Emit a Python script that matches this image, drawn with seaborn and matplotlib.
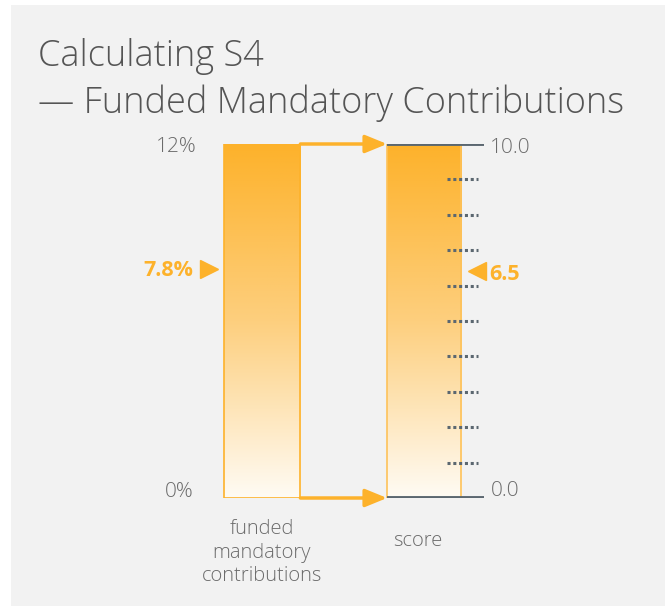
import numpy as np
import pandas as pd
import matplotlib
matplotlib.use('Agg')
import matplotlib.pyplot as plt
from matplotlib.patches import Rectangle
import seaborn as sns

# chart values
categories = ['funded mandatory contributions', 'score']
cat_labels = ['funded\nmandatory\ncontributions', 'score']
pct_max = 12
score_max = 10.0
pct_value = 7.8
score_value = 6.5
score_minor = [1, 2, 3, 4, 5, 6, 7, 8, 9]

orange = '#fdb22b'
grey_text = '#6b6b6b'
grey_line = '#5b6770'

sns.set_theme(style='white')
plt.rcParams['font.family'] = ['Open Sans', 'DejaVu Sans']

fig = plt.figure(figsize=(6.65, 6.06), dpi=100)
fig.patch.set_facecolor('white')
fig.patches.append(Rectangle((11 / 665, 0), 1, 601 / 606, transform=fig.transFigure,
                             facecolor='#f2f2f2', edgecolor='none', zorder=-10))

ax = fig.add_axes([100 / 665, 108 / 606, 486 / 665, 354 / 606])
ax.set_facecolor('none')
ax2 = ax.twinx()

left_df = pd.DataFrame({'cat': categories, 'val': [pct_max, np.nan]})
right_df = pd.DataFrame({'cat': categories, 'val': [np.nan, score_max]})
sns.barplot(data=left_df, x='cat', y='val', order=categories, ax=ax, width=0.47,
            facecolor='none', edgecolor=orange, linewidth=1.2)
sns.barplot(data=right_df, x='cat', y='val', order=categories, ax=ax2, width=0.46,
            facecolor='none', edgecolor='#fdc25a', linewidth=1.2)

ax.set_ylim(0, pct_max)
ax2.set_ylim(0, score_max)
ax.set_xlim(-1, 2)

# gradient fill clipped to the bars
grad = np.linspace(0, 1, 256).reshape(-1, 1)
cmap = matplotlib.colors.LinearSegmentedColormap.from_list('g', ['#fffbf4', '#fdcf7e', orange])
for a in (ax, ax2):
    for p in a.patches:
        h = p.get_height()
        if not np.isfinite(h) or h == 0:
            continue
        x0 = p.get_x()
        im = a.imshow(grad, extent=(x0, x0 + p.get_width(), 0, h), origin='lower',
                      cmap=cmap, aspect='auto', zorder=p.get_zorder() - 0.1)
        im.set_clip_path(p)

ax.set_xlim(-1, 2)
ax.set_ylim(0, pct_max)
ax2.set_ylim(0, score_max)

for a in (ax, ax2):
    for s in a.spines.values():
        s.set_visible(False)
    a.set_xticks([])
    a.set_yticks([])
    a.set_xlabel('')
    a.set_ylabel('')

# score scale lines and ticks
ax2.hlines([0, score_max], 0.772, 1.37, color=grey_line, lw=2.8, zorder=5)
ax2.hlines(score_minor, 1.142, 1.333, color=grey_line, lw=2.2,
           linestyles=(0, (1, 0.9)), zorder=5)
ax2.text(1.41, score_max - 0.1, f'{score_max:.1f}', ha='left', va='center', fontsize=15,
         color=grey_text, fontweight='light')
ax2.text(1.41, 0.2, f'{0:.1f}', ha='left', va='center', fontsize=15, color=grey_text,
         fontweight='light')

# percent labels
ax.text(-0.405, pct_max - 0.1, f'{pct_max}%', ha='right', va='center', fontsize=15,
        color=grey_text, fontweight='light')
ax.text(-0.425, 0.22, '0%', ha='right', va='center', fontsize=15, color=grey_text,
        fontweight='light')

# value markers
ax.plot([-0.33], [pct_value - 0.05], marker='>', ms=13, color=orange, ls='none', clip_on=False)
ax.text(-0.425, pct_value - 0.1, f'{pct_value}%', ha='right', va='center', fontsize=15.5,
        fontweight='bold', color=orange)
ax2.plot([1.33], [score_value - 0.1], marker='<', ms=13, color=orange, ls='none', clip_on=False)
ax2.text(1.405, score_value - 0.18, f'{score_value}', ha='left', va='center', fontsize=15.5,
         fontweight='bold', color=orange)

# connecting arrows
for y in (pct_max, 0):
    ax.annotate('', xy=(0.772, y), xytext=(0.237, y),
                arrowprops=dict(arrowstyle='-|>,head_length=1.1,head_width=0.45',
                                color=orange, lw=2.5, shrinkA=0, shrinkB=0),
                annotation_clip=False)

# category labels
ax.text(0, -0.72, cat_labels[0], ha='center', va='top', fontsize=14.5, color=grey_text,
        linespacing=1.22, fontweight='light')
ax.text(0.96, -1.12, cat_labels[1], ha='center', va='top', fontsize=14.5, color=grey_text,
        fontweight='light')

# title
fig.text(38 / 665, 1 - 66 / 606, 'Calculating S4', fontsize=26, color='#555555',
         va='baseline', fontweight='light')
fig.text(38 / 665, 1 - 113 / 606, '— Funded Mandatory Contributions', fontsize=26,
         color='#555555', va='baseline', fontweight='light')

fig.savefig('out.png', dpi=100, facecolor=fig.get_facecolor())
